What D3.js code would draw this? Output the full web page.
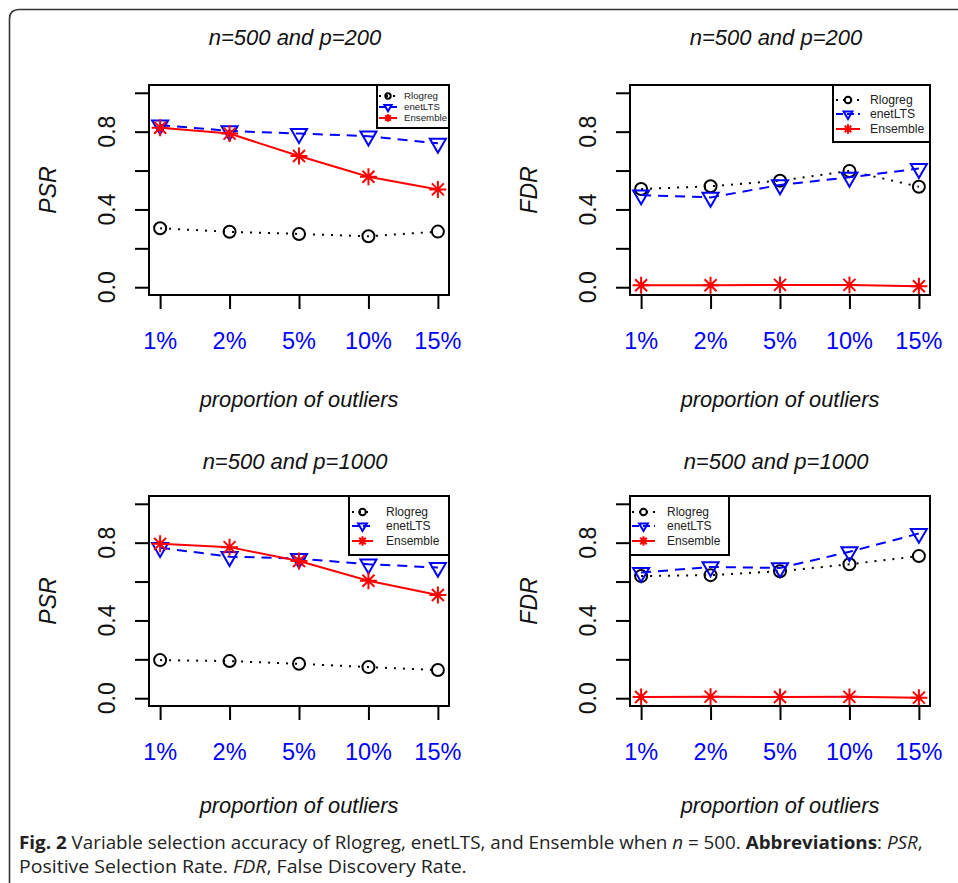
<!DOCTYPE html>
<html>
<head>
<meta charset="utf-8">
<script src="https://cdn.jsdelivr.net/npm/d3@7"></script>
<style>
  body { margin: 0; background: #fff; }
  svg { display: block; }
</style>
</head>
<body>
<svg id="chart"></svg>
<script>
// outlier proportions on the x axis
var categories = ["1%", "2%", "5%", "10%", "15%"];
var seriesNames = ["Rlogreg", "enetLTS", "Ensemble"];
var yTicks = [0, 0.2, 0.4, 0.6, 0.8, 1.0];
var yLabelTicks = [0, 0.4, 0.8];

// n=500, p=200
var psr200Rlogreg  = [0.303, 0.285, 0.274, 0.262, 0.286];
var psr200enetLTS  = [0.834, 0.804, 0.790, 0.777, 0.740];
var psr200Ensemble = [0.820, 0.790, 0.675, 0.568, 0.503];
var fdr200Rlogreg  = [0.505, 0.519, 0.548, 0.598, 0.517];
var fdr200enetLTS  = [0.474, 0.462, 0.526, 0.565, 0.610];
var fdr200Ensemble = [0.010, 0.010, 0.012, 0.012, 0.005];

// n=500, p=1000
var psr1000Rlogreg  = [0.196, 0.191, 0.177, 0.160, 0.145];
var psr1000enetLTS  = [0.774, 0.728, 0.718, 0.689, 0.672];
var psr1000Ensemble = [0.794, 0.777, 0.706, 0.604, 0.531];
var fdr1000Rlogreg  = [0.628, 0.633, 0.653, 0.689, 0.731];
var fdr1000enetLTS  = [0.646, 0.675, 0.670, 0.753, 0.847];
var fdr1000Ensemble = [0.006, 0.008, 0.006, 0.007, 0.003];

var width = 958, height = 883;
var svg = d3.select("#chart").attr("width", width).attr("height", height);

svg.append("rect").attr("width", width).attr("height", height).attr("fill", "#fff");

// rounded frame around the figure
svg.append("path")
  .attr("d", "M9.5,900 L9.5,19 Q9.5,9.5 19,9.5 L970,9.5")
  .attr("fill", "none")
  .attr("stroke", "#333")
  .attr("stroke-width", 1.6);

var styles = {
  Rlogreg:  { color: "#000", dash: "2,7", marker: "circle" },
  enetLTS:  { color: "#0000ff", dash: "10,7", marker: "triangle" },
  Ensemble: { color: "#ff0000", dash: null, marker: "star" }
};

var panels = [
  { left: 149, top: 85, title: "n=500 and p=200", ylab: "PSR", titleY: -40, xlabY: 112,
    values: [psr200Rlogreg, psr200enetLTS, psr200Ensemble],
    legend: { w: 72, h: 43, fs: 9.7, ms: 0.45, seg: [2, 20], textX: 27, rows: [11, 22, 33] } },
  { left: 630, top: 85, title: "n=500 and p=200", ylab: "FDR", titleY: -40, xlabY: 112,
    values: [fdr200Rlogreg, fdr200enetLTS, fdr200Ensemble],
    legend: { w: 97, h: 57, fs: 12.2, ms: 0.55, seg: [3, 27], textX: 37, rows: [15, 29, 44] } },
  { left: 149, top: 496, title: "n=500 and p=1000", ylab: "PSR", titleY: -27, xlabY: 107,
    values: [psr1000Rlogreg, psr1000enetLTS, psr1000Ensemble],
    legend: { w: 100, h: 59, fs: 12, ms: 0.55, seg: [3, 24], textX: 37, rows: [16, 30, 45], side: "right" } },
  { left: 630, top: 496, title: "n=500 and p=1000", ylab: "FDR", titleY: -27, xlabY: 107,
    values: [fdr1000Rlogreg, fdr1000enetLTS, fdr1000Ensemble],
    legend: { w: 99, h: 59, fs: 12, ms: 0.55, seg: [2, 25], textX: 37, rows: [16, 30, 45], side: "left" } }
];

var boxW = 300, boxH = 210;
var font = "'Liberation Sans', Arial, sans-serif";

function marker(sel, type, s, color) {
  if (type === "circle") {
    sel.append("circle").attr("r", 6 * s)
      .attr("fill", "none").attr("stroke", color).attr("stroke-width", 2);
  } else if (type === "triangle") {
    var xc = 6 * s;
    sel.append("path")
      .attr("d", "M" + (-1.34 * xc) + "," + (-0.775 * xc) + "L" + (1.34 * xc) + "," + (-0.775 * xc) +
                 "L0," + (1.55 * xc) + "Z")
      .attr("fill", "none").attr("stroke", color).attr("stroke-width", 2);
  } else {
    var a = 6 * s, b = a * Math.SQRT2;
    sel.append("path")
      .attr("d", "M" + -a + "," + -a + "L" + a + "," + a + "M" + -a + "," + a + "L" + a + "," + -a +
                 "M" + -b + ",0L" + b + ",0M0," + -b + "L0," + b)
      .attr("fill", "none").attr("stroke", color).attr("stroke-width", 2);
  }
}

panels.forEach(function(p) {
  var g = svg.append("g").attr("transform", "translate(" + p.left + "," + p.top + ")");

  // R style: 4% padding around the data range
  var x = d3.scaleLinear().domain([1 - 0.16, 5 + 0.16]).range([0, boxW]);
  var y = d3.scaleLinear().domain([-0.04, 1.04]).range([boxH, 0]);

  g.append("text")
    .attr("x", boxW / 2 - 4).attr("y", p.titleY)
    .attr("text-anchor", "middle")
    .style("font", "italic 22px " + font)
    .attr("fill", "#111")
    .text(p.title);

  var yAxis = g.append("g")
    .call(d3.axisLeft(y).tickValues(yTicks).tickSize(14).tickFormat(""));
  yAxis.select(".domain").attr("d", "M0," + y(0) + "V" + y(1)).attr("stroke-width", 2);
  yAxis.selectAll(".tick line").attr("stroke-width", 2);

  g.selectAll(".ylab")
    .data(yLabelTicks)
    .enter().append("text")
      .attr("transform", d => "translate(-34," + y(d) + ") rotate(-90)")
      .attr("text-anchor", "middle")
      .style("font", "23px " + font)
      .attr("fill", "#111")
      .text(d => d.toFixed(1));

  g.append("text")
    .attr("transform", "translate(-93," + (boxH / 2) + ") rotate(-90)")
    .attr("text-anchor", "middle")
    .style("font", "italic 23px " + font)
    .attr("fill", "#111")
    .text(p.ylab);

  var xAxis = g.append("g")
    .attr("transform", "translate(0," + boxH + ")")
    .call(d3.axisBottom(x).tickValues([1, 2, 3, 4, 5]).tickSize(14).tickFormat(""));
  xAxis.select(".domain").attr("d", "M" + x(1) + ",0H" + x(5)).attr("stroke-width", 2);
  xAxis.selectAll(".tick line").attr("stroke-width", 2);

  g.selectAll(".xlab")
    .data(categories)
    .enter().append("text")
      .attr("x", (d, i) => x(i + 1))
      .attr("y", boxH + 54)
      .attr("text-anchor", "middle")
      .style("font", "23.5px " + font)
      .attr("fill", "#0000ff")
      .text(d => d);

  g.append("text")
    .attr("x", boxW / 2).attr("y", boxH + p.xlabY)
    .attr("text-anchor", "middle")
    .style("font", "italic 21.8px " + font)
    .attr("fill", "#111")
    .text("proportion of outliers");

  var line = d3.line().x((d, i) => x(i + 1)).y(d => y(d));

  seriesNames.forEach(function(name, k) {
    var st = styles[name];
    g.append("path")
      .datum(p.values[k])
      .attr("d", line)
      .attr("fill", "none")
      .attr("stroke", st.color)
      .attr("stroke-width", 2)
      .attr("stroke-dasharray", st.dash);

    g.selectAll(".pt" + k)
      .data(p.values[k])
      .enter().append("g")
        .attr("transform", (d, i) => "translate(" + x(i + 1) + "," + y(d) + ")")
        .each(function() { marker(d3.select(this), st.marker, 1, st.color); });
  });

  g.append("rect")
    .attr("width", boxW).attr("height", boxH)
    .attr("fill", "none").attr("stroke", "#000").attr("stroke-width", 2);

  // legend
  var L = p.legend;
  var lx = L.side === "left" ? 0 : boxW - L.w;
  var lg = g.append("g").attr("transform", "translate(" + lx + ",0)");
  lg.append("rect").attr("width", L.w).attr("height", L.h)
    .attr("fill", "#fff").attr("stroke", "#000").attr("stroke-width", 2);
  seriesNames.forEach(function(name, k) {
    var st = styles[name];
    var yy = L.rows[k];
    lg.append("line")
      .attr("x1", L.seg[0]).attr("x2", L.seg[1])
      .attr("y1", yy).attr("y2", yy)
      .attr("stroke", st.color).attr("stroke-width", 2)
      .attr("stroke-dasharray", name === "Rlogreg" ? "2,5" : (name === "enetLTS" ? "7,4" : null));
    marker(lg.append("g").attr("transform", "translate(" + (L.seg[0] + L.seg[1]) / 2 + "," + yy + ")"),
      st.marker, L.ms, st.color);
    lg.append("text")
      .attr("x", L.textX).attr("y", yy)
      .attr("dy", "0.36em")
      .style("font", L.fs + "px " + font)
      .attr("fill", "#222")
      .text(name);
  });
});

// caption
var capFont = "'Open Sans', 'Noto Sans', sans-serif";
var cap1 = svg.append("text").attr("x", 19).attr("y", 849)
  .style("font-family", capFont).style("font-size", "17.5px").attr("fill", "#222");
cap1.append("tspan").attr("font-weight", "bold").text("Fig. 2");
cap1.append("tspan").text(" Variable selection accuracy of Rlogreg, enetLTS, and Ensemble when ");
cap1.append("tspan").attr("font-style", "italic").text("n");
cap1.append("tspan").text(" = 500. ");
cap1.append("tspan").attr("font-weight", "bold").text("Abbreviations");
cap1.append("tspan").text(": ");
cap1.append("tspan").attr("font-style", "italic").text("PSR");
cap1.append("tspan").text(",");

var cap2 = svg.append("text").attr("x", 19).attr("y", 873)
  .style("font-family", capFont).style("font-size", "17.5px").attr("fill", "#222");
cap2.append("tspan").text("Positive Selection Rate. ");
cap2.append("tspan").attr("font-style", "italic").text("FDR");
cap2.append("tspan").text(", False Discovery Rate.");

// squeeze the caption to the narrow face width of the original
function fit(t, w) {
  var sx = w / t.node().getComputedTextLength();
  t.attr("transform", "translate(19,0) scale(" + sx + ",1) translate(-19,0)");
}
fit(cap1, 904);
fit(cap2, 448);
</script>
</body>
</html>
